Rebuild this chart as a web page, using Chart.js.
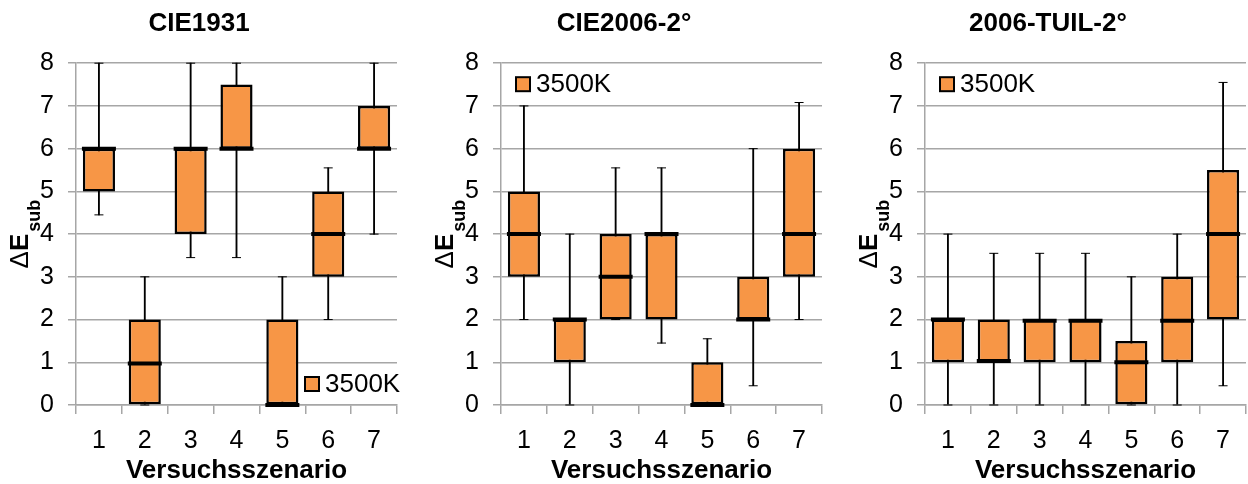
<!DOCTYPE html>
<html>
<head>
<meta charset="utf-8">
<script src="https://cdn.jsdelivr.net/npm/chart.js@4/dist/chart.umd.min.js"></script>
<style>
  html, body { margin: 0; padding: 0; background: #fff; overflow: hidden; width: 1248px; height: 484px; }
  .panel { position: absolute; top: 0; width: 420px; height: 484px; }
</style>
</head>
<body>
<div class="panel" id="p1" style="left:-2px"><canvas id="c1" width="420" height="484"></canvas></div>
<div class="panel" id="p2" style="left:423px"><canvas id="c2" width="420" height="484"></canvas></div>
<div class="panel" id="p3" style="left:847px"><canvas id="c3" width="420" height="484"></canvas></div>
<script>
// ---- data ----
const categories = ['1', '2', '3', '4', '5', '6', '7'];
const seriesLabel = '3500K';
const panelTitles = ['CIE1931', 'CIE2006-2°', '2006-TUIL-2°'];
const xAxisTitle = 'Versuchsszenario';
const yAxisTitleMain = 'E';
const yAxisTitleDelta = 'Δ';
const yAxisTitleSub = 'sub';

const cie1931Min    = [4.45, 0,    3.45, 3.45, 0, 2,    4];
const cie1931Q1     = [5,    0,    4,    6,    0, 3,    6];
const cie1931Median = [6,    0.97, 6,    6,    0, 4,    6];
const cie1931Q3     = [6,    2,    6,    7.5,  2, 5,    7];
const cie1931Max    = [8,    3,    8,    8,    3, 5.55, 8];

const cie2006Min    = [2, 0, 2,    1.45, 0,    0.45, 2];
const cie2006Q1     = [3, 1, 2,    2,    0,    2,    3];
const cie2006Median = [4, 2, 3,    4,    0,    2,    4];
const cie2006Q3     = [5, 2, 4,    4,    1,    3,    6];
const cie2006Max    = [7, 4, 5.55, 5.55, 1.55, 6,    7.08];

const tuilMin    = [0, 0,    0,    0,    0,   0, 0.45];
const tuilQ1     = [1, 1,    1,    1,    0,   1, 2];
const tuilMedian = [2, 1.03, 1.97, 1.97, 1,   1.97, 4];
const tuilQ3     = [2, 2,    2,    2,    1.5, 3, 5.5];
const tuilMax    = [4, 3.55, 3.55, 3.55, 3,   4, 7.55];

const legendPlacement = ['bottomRight', 'topLeft', 'topLeft'];

// ---- styles ----
const FONT = "'Liberation Sans', Arial, sans-serif";
const ORANGE = '#F79646';
const GRID = '#a6a6a6';

function boxes(q1, q3) { return q1.map((v, i) => [v, q3[i]]); }

const yTitlePlugin = {
  id: 'yTitle',
  afterDraw(chart) {
    const ctx = chart.ctx;
    const ca = chart.chartArea;
    const cy = (ca.top + ca.bottom) / 2;
    ctx.save();
    const fMain = 'bold 26px ' + FONT;
    const fDelta = '26px ' + FONT;
    const fSub = 'bold 18px ' + FONT;
    ctx.font = fDelta; const wd = ctx.measureText(yAxisTitleDelta).width;
    ctx.font = fMain; const we = ctx.measureText(yAxisTitleMain).width;
    ctx.font = fSub; const ws = ctx.measureText(yAxisTitleSub).width;
    const total = wd + we + 2 + ws;
    ctx.translate(ca.left - 48, cy);
    ctx.rotate(-Math.PI / 2);
    ctx.fillStyle = '#000';
    ctx.textBaseline = 'alphabetic';
    ctx.textAlign = 'left';
    let x = -total / 2;
    ctx.font = fDelta; ctx.fillText(yAxisTitleDelta, x, 0); x += wd;
    ctx.font = fMain; ctx.fillText(yAxisTitleMain, x, 0); x += we + 2;
    ctx.font = fSub; ctx.fillText(yAxisTitleSub, x, 12);
    ctx.restore();
  }
};

const boxLegendPlugin = {
  id: 'boxLegend',
  afterDraw(chart, args, opts) {
    const ctx = chart.ctx;
    const ca = chart.chartArea;
    const ds = chart.data.datasets.find(d => d.isBox);
    ctx.save();
    ctx.font = '26px ' + FONT;
    const tw = ctx.measureText(ds.label).width;
    const size = 14;
    let bx, cy;
    if (opts.placement === 'bottomRight') {
      bx = ca.right - 92; cy = ca.bottom - 21;
    } else {
      bx = ca.left + 15; cy = ca.top + 21;
    }
    ctx.fillStyle = ds.backgroundColor;
    ctx.fillRect(bx, cy - size / 2, size, size);
    ctx.strokeStyle = '#000';
    ctx.lineWidth = 2;
    ctx.strokeRect(bx, cy - size / 2, size, size);
    ctx.fillStyle = '#000';
    ctx.textBaseline = 'middle';
    ctx.textAlign = 'left';
    ctx.fillText(ds.label, bx + size + 6, cy + 1);
    ctx.restore();
  }
};

function makeChart(canvasId, title, mins, q1, med, q3, maxs, placement) {
  return new Chart(document.getElementById(canvasId), {
    type: 'bar',
    data: {
      labels: categories,
      datasets: [
        { type: 'bar', label: 'whisker', data: boxes(mins, maxs), backgroundColor: '#000',
          borderWidth: 0, barThickness: 1.2, grouped: false, order: 4, clip: 6 },
        { type: 'bar', label: seriesLabel, isBox: true, data: boxes(q1, q3), backgroundColor: ORANGE,
          borderColor: '#000', borderWidth: 2.5, borderSkipped: false, barPercentage: 0.7,
          categoryPercentage: 1, grouped: false, order: 3, clip: 6 },
        { type: 'line', label: 'median', data: med, showLine: false, pointStyle: 'line',
          pointRadius: 17, pointHoverRadius: 17, borderColor: '#000', pointBorderWidth: 4,
          borderWidth: 4, order: 1, clip: 6 },
        { type: 'line', label: 'max', data: maxs, showLine: false, pointStyle: 'line',
          pointRadius: 4.5, borderColor: '#000', pointBorderWidth: 1, borderWidth: 1, order: 2, clip: 6 },
        { type: 'line', label: 'min', data: mins, showLine: false, pointStyle: 'line',
          pointRadius: 4.5, borderColor: '#000', pointBorderWidth: 1, borderWidth: 1, order: 2, clip: 6 }
      ]
    },
    options: {
      responsive: false,
      animation: false,
      events: [],
      layout: { padding: { left: 0, right: 18, top: 0, bottom: 0 } },
      plugins: {
        legend: { display: false },
        tooltip: { enabled: false },
        title: {
          display: true, text: title, color: '#000',
          font: { family: FONT, size: 26, weight: 'bold', lineHeight: 1.2 },
          padding: { top: 8, bottom: 24 }
        },
        boxLegend: { placement: placement }
      },
      scales: {
        x: {
          offset: true,
          grid: { display: true, drawOnChartArea: false, drawTicks: true, tickLength: 9, color: GRID, lineWidth: 1.5, offset: true },
          border: { display: true, color: GRID, width: 1.5 },
          ticks: { color: '#000', font: { family: FONT, size: 25 }, padding: 12 },
          title: { display: true, text: xAxisTitle, color: '#000',
                   font: { family: FONT, size: 26, weight: 'bold', lineHeight: 1 }, padding: { top: 0, bottom: 0 } },
          afterFit(scale) { scale.height = 79; }
        },
        y: {
          min: 0, max: 8,
          ticks: { stepSize: 1, color: '#000', font: { family: FONT, size: 25 }, padding: 14 },
          grid: { color: GRID, lineWidth: 1.5, tickLength: 8, drawTicks: true },
          border: { display: true, color: GRID, width: 1.5 },
          afterFit(scale) { scale.width = 78; }
        }
      }
    },
    plugins: [yTitlePlugin, boxLegendPlugin]
  });
}

makeChart('c1', panelTitles[0], cie1931Min, cie1931Q1, cie1931Median, cie1931Q3, cie1931Max, legendPlacement[0]);
makeChart('c2', panelTitles[1], cie2006Min, cie2006Q1, cie2006Median, cie2006Q3, cie2006Max, legendPlacement[1]);
makeChart('c3', panelTitles[2], tuilMin, tuilQ1, tuilMedian, tuilQ3, tuilMax, legendPlacement[2]);
</script>
</body>
</html>
